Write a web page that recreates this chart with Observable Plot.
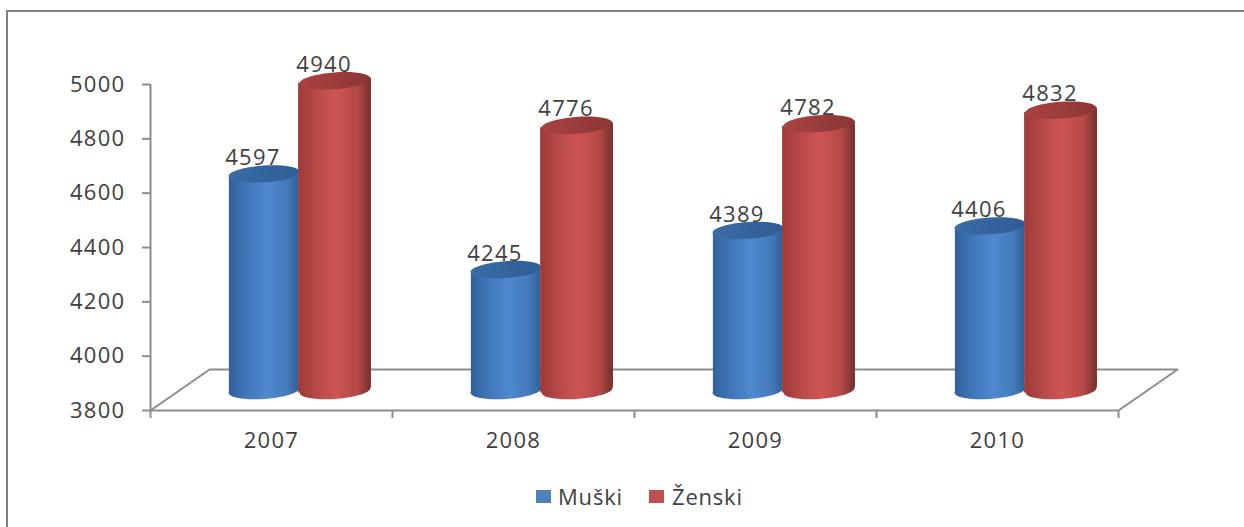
<!DOCTYPE html>
<html><head><meta charset="utf-8">
<script src="https://cdn.jsdelivr.net/npm/d3@7"></script>
<script src="https://cdn.jsdelivr.net/npm/@observablehq/plot@0.6"></script>
<style>
html,body{margin:0;padding:0;background:#fff;overflow:hidden}
#wrap{position:relative;width:1244px;height:527px;font-family:"Open Sans",sans-serif;color:#404040}
#border{position:absolute;left:6px;top:10px;right:0;bottom:0;border-left:2px solid #808080;border-top:2px solid #808080}
#chart{position:absolute;left:0;top:0}
.sw{position:absolute;top:490px;width:15px;height:13px}
.lb{position:absolute;top:481px;font-size:22px;line-height:30px;letter-spacing:.8px}
</style></head><body>
<div id="wrap"><div id="border"></div><div id="chart"></div>
<div class="sw" style="left:536px;background:#4f81bd"></div><div class="lb" style="left:558px">Muški</div>
<div class="sw" style="left:649px;background:#c0504d"></div><div class="lb" style="left:672px">Ženski</div>
</div>
<script>
const years = [2007, 2008, 2009, 2010];
const muski = [4597, 4245, 4389, 4406];
const zenski = [4940, 4776, 4782, 4832];
const yTicks = [3800, 4000, 4200, 4400, 4600, 4800, 5000];

const BASE = 3800, DY = -20, TILT = 9;
const gray = "#8c8c8c", ink = "#404040";

function rows(values, start, end) {
  return values.map((v, i) => ({year: years[i], value: v, x0: i + start, x1: i + end, xc: i + (start + end) / 2}));
}
const blue = rows(muski, 0.326, 0.612);
const red = rows(zenski, 0.612, 0.913);
const body = (r) => r.flatMap((d) => [
  {z: d.year, x: d.x0, y1: BASE - TILT, y2: d.value - TILT},
  {z: d.year, x: d.x1, y1: BASE + TILT, y2: d.value + TILT}
]);
const floor = [
  {x: 0, y: 3800}, {x: 0.244, y: 3951}, {x: 4.244, y: 3951}, {x: 4, y: 3800}
];

// A flat, slightly tilted ellipse: the cylinder's end
function ellipse(rx, ry) {
  const t = Math.atan(5 / 71), c = Math.cos(t), s = Math.sin(t), k = 0.5523;
  const P = (a, b) => [a * c + b * s, -a * s + b * c];
  return {draw(ctx) {
    const pts = [
      P(rx, 0), P(rx, k * ry), P(k * rx, ry), P(0, ry),
      P(-k * rx, ry), P(-rx, k * ry), P(-rx, 0),
      P(-rx, -k * ry), P(-k * rx, -ry), P(0, -ry),
      P(k * rx, -ry), P(rx, -k * ry), P(rx, 0)
    ];
    ctx.moveTo(...pts[0]);
    for (let i = 1; i < pts.length; i += 3) ctx.bezierCurveTo(...pts[i], ...pts[i + 1], ...pts[i + 2]);
    ctx.closePath();
  }};
}
const endCap = ellipse(35.5, 8.4);

function gradient(defs, id, stops) {
  const g = defs.append("linearGradient").attr("id", id).attr("x1", 0).attr("x2", 1).attr("y1", 0).attr("y2", 0);
  for (const [o, col] of stops) g.append("stop").attr("offset", o).attr("stop-color", col);
}
function defsMark() {
  const svg = d3.create("svg:g");
  const defs = svg.append("defs");
  gradient(defs, "gb", [[0, "#30619b"], [.25, "#4076b8"], [.55, "#5089d0"], [.85, "#4379b8"], [1, "#315f97"]]);
  gradient(defs, "gr", [[0, "#9e3a39"], [.25, "#b74a48"], [.52, "#cd5553"], [.82, "#b34947"], [1, "#742f2e"]]);
  gradient(defs, "cb", [[0, "#3b6ca6"], [1, "#2f5d94"]]);
  gradient(defs, "cr", [[0, "#a94342"], [1, "#8c3635"]]);
  return svg.node();
}

const cyl = (r, bodyFill, capFill) => [
  Plot.dot(r, {x: "xc", y: () => BASE, symbol: endCap, fill: bodyFill, stroke: "none", dy: DY}),
  Plot.area(body(r), {x1: "x", y1: "y1", y2: "y2", z: "z", fill: bodyFill, dy: DY}),
  Plot.dot(r, {x: "xc", y: "value", symbol: endCap, fill: capFill, stroke: "none", dy: DY})
];
const labels = (r) => Plot.text(r, {
  x: "xc", y: "value", text: (d) => String(d.value),
  dy: -36, dx: -11, fill: ink
});

const chart = Plot.plot({
  width: 1244, height: 470,
  marginLeft: 150, marginRight: 126, marginTop: 84, marginBottom: 60,
  style: {background: "transparent", fontFamily: '"Open Sans",sans-serif', fontSize: "22px", letterSpacing: "1.3px"},
  x: {domain: [0, 4], axis: null},
  y: {domain: [3800, 5000], axis: null},
  marks: [
    defsMark,
    Plot.line(floor, {x: "x", y: "y", stroke: gray, strokeWidth: 2}),
    Plot.ruleX([0], {y1: 3800, y2: 5000, stroke: gray, strokeWidth: 2}),
    Plot.ruleY([3800], {x1: 0, x2: 4, stroke: gray, strokeWidth: 2}),
    Plot.axisY({ticks: yTicks, tickSize: 8, tickPadding: 17, stroke: gray, strokeWidth: 2, fill: ink, tickFormat: (d) => String(d), label: null}),
    Plot.axisX({ticks: [0, 1, 2, 3, 4], tickSize: 8, stroke: gray, strokeWidth: 2, tickFormat: () => "", label: null}),
    Plot.axisX({ticks: [0.5, 1.5, 2.5, 3.5], tickSize: 0, tickPadding: 22, fill: ink, tickFormat: (d) => String(years[d - 0.5]), label: null}),
    ...cyl(blue, "url(#gb)", "url(#cb)"),
    ...cyl(red, "url(#gr)", "url(#cr)"),
    labels(blue),
    labels(red)
  ]
});
document.getElementById("chart").append(chart);
</script>
</body></html>
